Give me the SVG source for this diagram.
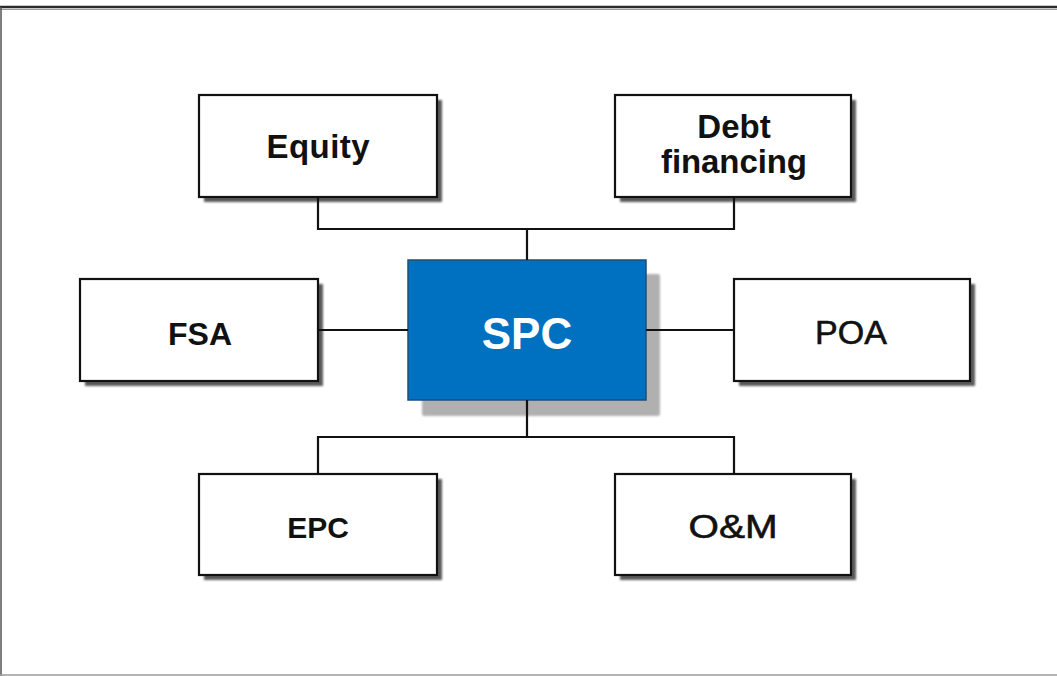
<svg xmlns="http://www.w3.org/2000/svg" width="1057" height="676" viewBox="0 0 1057 676">
<defs>
<filter id="blur" x="-10%" y="-10%" width="120%" height="120%"><feGaussianBlur stdDeviation="1.2"/></filter>
<style>
.box{fill:#ffffff;stroke:#111111;stroke-width:2.2}
.sh{fill:#5a5a5a;filter:url(#blur)}
.shb{fill:#b0b0b0;filter:url(#blur)}
.b{font-family:"Liberation Sans",Arial,sans-serif;font-weight:bold;fill:#111111;text-anchor:middle}
.r{font-family:"Liberation Sans",Arial,sans-serif;fill:#111111;text-anchor:middle;stroke:#111111;stroke-width:0.6}
.con{stroke:#111111;stroke-width:2.2;fill:none}
</style>
</defs>
<rect x="0" y="0" width="1057" height="676" fill="#ffffff"/>
<g id="frame">
<line x1="0" y1="7" x2="1057" y2="7" stroke="#2a2a2a" stroke-width="2.5"/>
<line x1="0" y1="9.5" x2="1057" y2="9.5" stroke="#9a9a9a" stroke-width="1"/>
<line x1="1" y1="7" x2="1" y2="676" stroke="#555555" stroke-width="1.5"/>
<line x1="0" y1="675" x2="1057" y2="675" stroke="#9a9a9a" stroke-width="1.5"/>
</g>
<g id="equity">
<rect class="sh" x="204" y="100" width="238" height="102"/>
<rect class="box" x="199" y="95" width="238" height="102"/>
<text class="b" x="318" y="158" font-size="33" textLength="103">Equity</text>
</g>
<g id="debt">
<rect class="sh" x="620" y="100" width="236" height="102"/>
<rect class="box" x="615" y="95" width="236" height="102"/>
<text class="b" x="734" y="138" font-size="33">Debt</text>
<text class="b" x="734" y="173" font-size="33" textLength="146">financing</text>
</g>
<g id="fsa">
<rect class="sh" x="85" y="284" width="238" height="102"/>
<rect class="box" x="80" y="279" width="238" height="102"/>
<text class="b" x="200" y="345" font-size="32">FSA</text>
</g>
<g id="spc">
<rect class="shb" x="422" y="274" width="238" height="142" rx="2"/>
<rect x="408" y="260" width="238" height="140" fill="#0070c0" stroke="#1f4e79" stroke-width="1.5"/>
<text class="b" x="527" y="349" font-size="44" style="fill:#ffffff">SPC</text>
</g>
<g id="poa">
<rect class="sh" x="739" y="284" width="236" height="102"/>
<rect class="box" x="734" y="279" width="236" height="102"/>
<text class="r" x="851" y="344" font-size="34">POA</text>
</g>
<g id="epc">
<rect class="sh" x="204" y="479" width="238" height="101"/>
<rect class="box" x="199" y="474" width="238" height="101"/>
<text class="b" x="318" y="538" font-size="30">EPC</text>
</g>
<g id="om">
<rect class="sh" x="620" y="479" width="236" height="101"/>
<rect class="box" x="615" y="474" width="236" height="101"/>
<text class="r" x="733" y="538" font-size="34" textLength="89" lengthAdjust="spacingAndGlyphs">O&amp;M</text>
</g>
<g id="connectors">
<polyline class="con" points="318,197 318,229 734,229 734,197"/>
<line class="con" x1="527" y1="229" x2="527" y2="260"/>
<polyline class="con" points="318,474 318,437 734,437 734,474"/>
<line class="con" x1="527" y1="400" x2="527" y2="437"/>
<line class="con" x1="319" y1="330" x2="408" y2="330"/>
<line class="con" x1="646" y1="330" x2="733" y2="330"/>
</g>
</svg>
